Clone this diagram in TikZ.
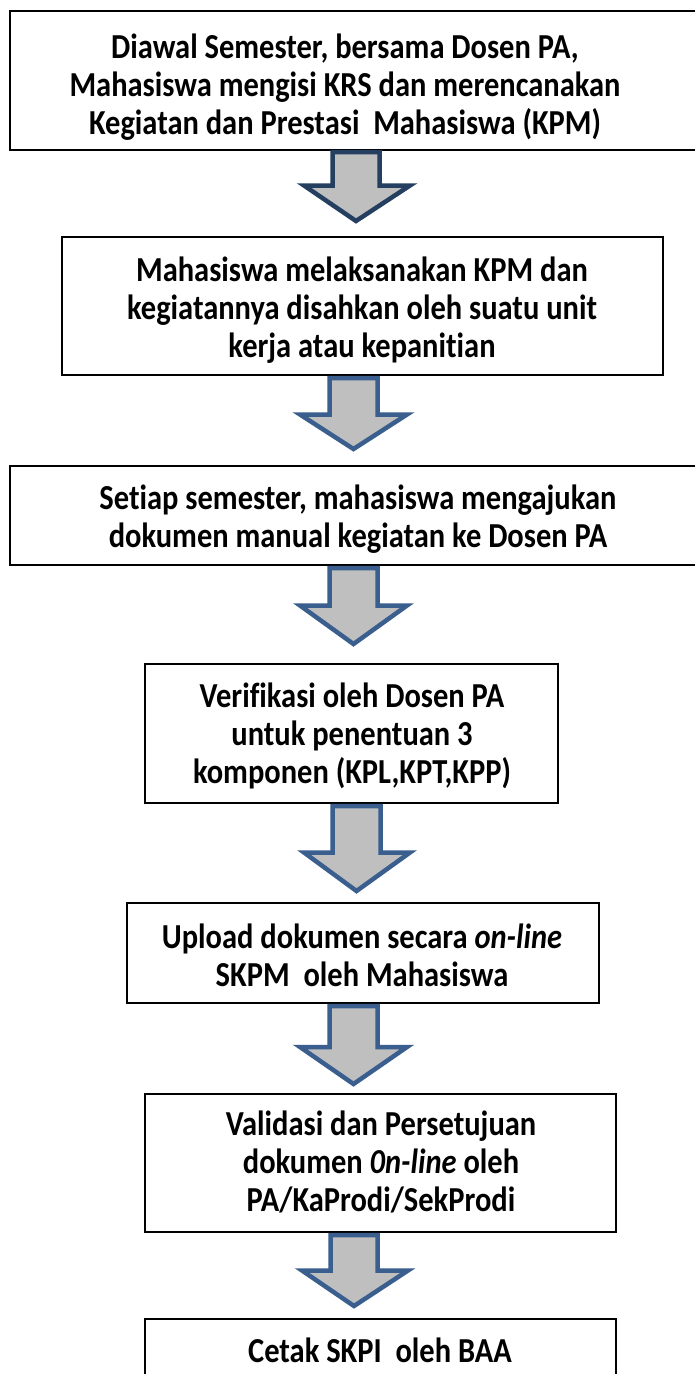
\documentclass[tikz,border=0pt]{standalone}
\usepackage{fontspec}
\usepackage{graphicx}
\setmainfont{Carlito}[Ligatures=NoCommon]
\usetikzlibrary{shadows}
\definecolor{navy}{HTML}{243F60}
\definecolor{steel}{HTML}{3A5F8F}
\definecolor{arrfill}{HTML}{BFBFBF}
\newcommand\talltext[1]{\scalebox{1}[1.15]{\begin{tabular}{@{}c@{}}#1\end{tabular}}}
\tikzset{
  box/.style={draw=black, line width=1.8pt, fill=white, inner sep=0pt,
    drop shadow={shadow xshift=1.2pt, shadow yshift=-1.2pt, fill=gray!45, opacity=1}},
  txt/.style={font=\fontsize{30.5}{33}\selectfont\bfseries, align=center, inner sep=0pt},
  blockarrow/.style={draw=steel, fill=arrfill, line width=4.5pt, line join=miter},
  firstarrow/.style={blockarrow, draw=navy}
}
\begin{document}
\begin{tikzpicture}[x=1pt,y=-1pt]
\useasboundingbox[fill=white] (0,0) rectangle (694,1374);
% boxes
\node[box, minimum width=700pt, minimum height=139pt] (b1) at (360,80.5) {};
\node[box, minimum width=601pt, minimum height=138pt] (b2) at (362.5,306) {};
\node[box, minimum width=700pt, minimum height=99pt] (b3) at (360,515.5) {};
\node[box, minimum width=413pt, minimum height=139pt] (b4) at (351.5,733.5) {};
\node[box, minimum width=472pt, minimum height=100pt] (b5) at (363,953) {};
\node[box, minimum width=471pt, minimum height=138pt] (b6) at (380.5,1163) {};
\node[box, minimum width=471pt, minimum height=100pt] (b7) at (380.5,1369) {};
% texts
\node[txt] (t1) at (345,88.5) {\talltext{Diawal Semester, bersama Dosen PA,\\Mahasiswa mengisi KRS dan merencanakan\\Kegiatan dan Prestasi\ \ Mahasiswa (KPM)}};
\node[txt] (t2) at (362,312) {\talltext{Mahasiswa melaksanakan KPM dan\\kegiatannya disahkan oleh suatu unit\\kerja atau kepanitian}};
\node[txt] (t3) at (358,521) {\talltext{Setiap semester, mahasiswa mengajukan\\dokumen manual kegiatan ke Dosen PA}};
\node[txt] (t4) at (352,738) {\talltext{Verifikasi oleh Dosen PA\\untuk penentuan 3\\komponen (KPL,KPT,KPP)}};
\node[txt] (t5) at (362,960) {\talltext{Upload dokumen secara \textit{on-line}\\SKPM\ \ oleh Mahasiswa}};
\node[txt] (t6) at (381,1166) {\talltext{Validasi dan Persetujuan\\dokumen \textit{0n-line} oleh\\PA/KaProdi/SekProdi}};
\node[txt] (t7) at (380,1355) {\talltext{Cetak SKPI\ \ oleh BAA}};
% block arrows
\draw[firstarrow] (332.5,152) -- (379.5,152) -- (379.5,185.5) -- (410,185.5) -- (356,221) -- (304,185.5) -- (332.5,185.5) -- cycle;
\draw[blockarrow] (329.5,378) -- (377.5,378) -- (377.5,414.5) -- (407,414.5) -- (353.5,449) -- (300,414.5) -- (329.5,414.5) -- cycle;
\draw[blockarrow] (329.5,568) -- (377.5,568) -- (377.5,605.5) -- (407,605.5) -- (353.5,644) -- (300,605.5) -- (329.5,605.5) -- cycle;
\draw[blockarrow] (332.5,806) -- (380.5,806) -- (380.5,852.5) -- (410,852.5) -- (356.5,891) -- (304,852.5) -- (332.5,852.5) -- cycle;
\draw[blockarrow] (329.5,1006) -- (377.5,1006) -- (377.5,1047) -- (407,1047) -- (353.5,1084) -- (300,1047) -- (329.5,1047) -- cycle;
\draw[blockarrow] (330.5,1235) -- (377.5,1235) -- (377.5,1270.5) -- (408,1270.5) -- (354,1306) -- (302,1270.5) -- (330.5,1270.5) -- cycle;
\end{tikzpicture}
\end{document}
